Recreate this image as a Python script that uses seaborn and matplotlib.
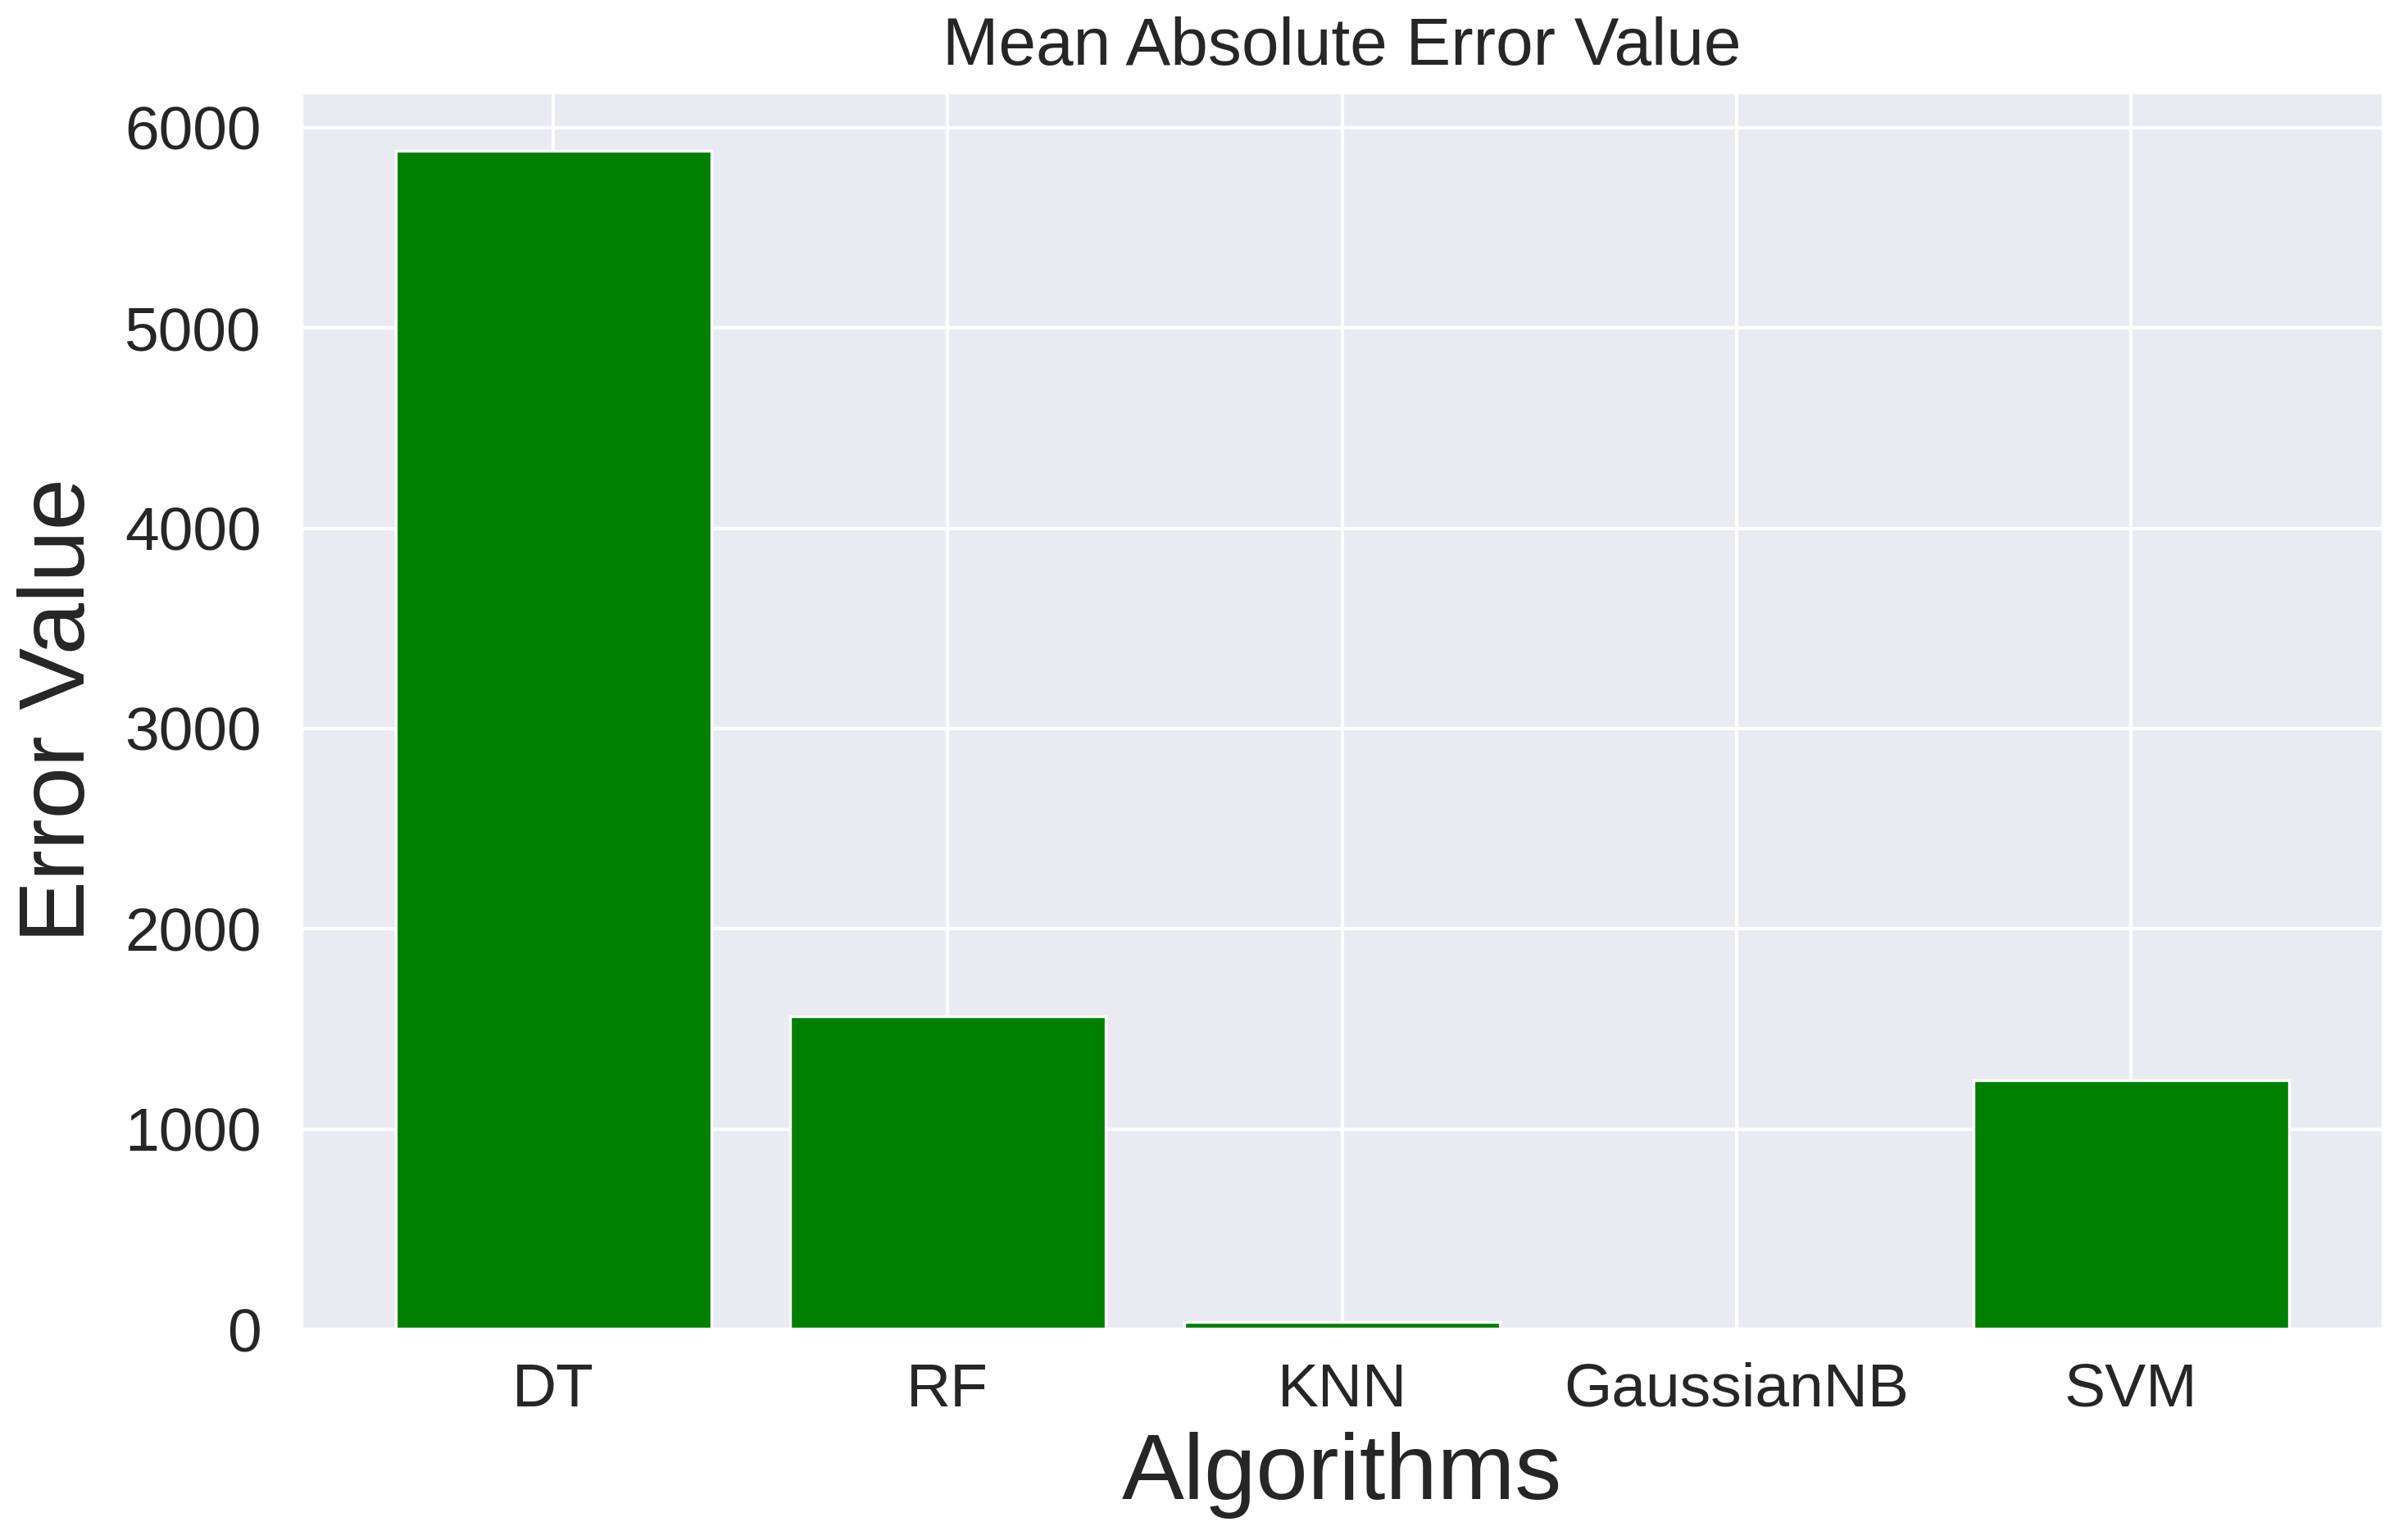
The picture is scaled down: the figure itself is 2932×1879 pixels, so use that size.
import matplotlib
matplotlib.use("Agg")
import matplotlib.pyplot as plt
import seaborn as sns
import pandas as pd

algorithms = ["DT", "RF", "KNN", "GaussianNB", "SVM"]
mae_values = [5885, 1565, 38, 0, 1242]

sns.set_theme(style="darkgrid")
plt.rcParams['font.family'] = ['Liberation Sans', 'DejaVu Sans']

df = pd.DataFrame({"Algorithms": algorithms, "Error Value": mae_values})

fig = plt.figure(figsize=(2932 / 300, 1879 / 300), dpi=300)
ax = fig.add_axes([367 / 2932, 1 - 1622 / 1879, (2908 - 367) / 2932, (1622 - 112) / 1879])

sns.barplot(data=df, x="Algorithms", y="Error Value", color="green",
            saturation=1, width=0.8, ax=ax, edgecolor="white", linewidth=0.8)

ax.xaxis.grid(True)
ax.set_axisbelow(True)
ax.set_xlim(-0.64, len(algorithms) - 1 + 0.64)
ax.set_ylim(0, max(mae_values) * 1.05)

ax.set_title("Mean Absolute Error Value", fontsize=19.7, pad=8)
ax.set_xlabel("Algorithms", fontsize=27.3, labelpad=4)
ax.set_ylabel("Error Value", fontsize=27.3, labelpad=6)
ax.tick_params(axis="both", labelsize=18)
ax.tick_params(axis="y", pad=5.5)

fig.savefig("out.png", dpi=300)
